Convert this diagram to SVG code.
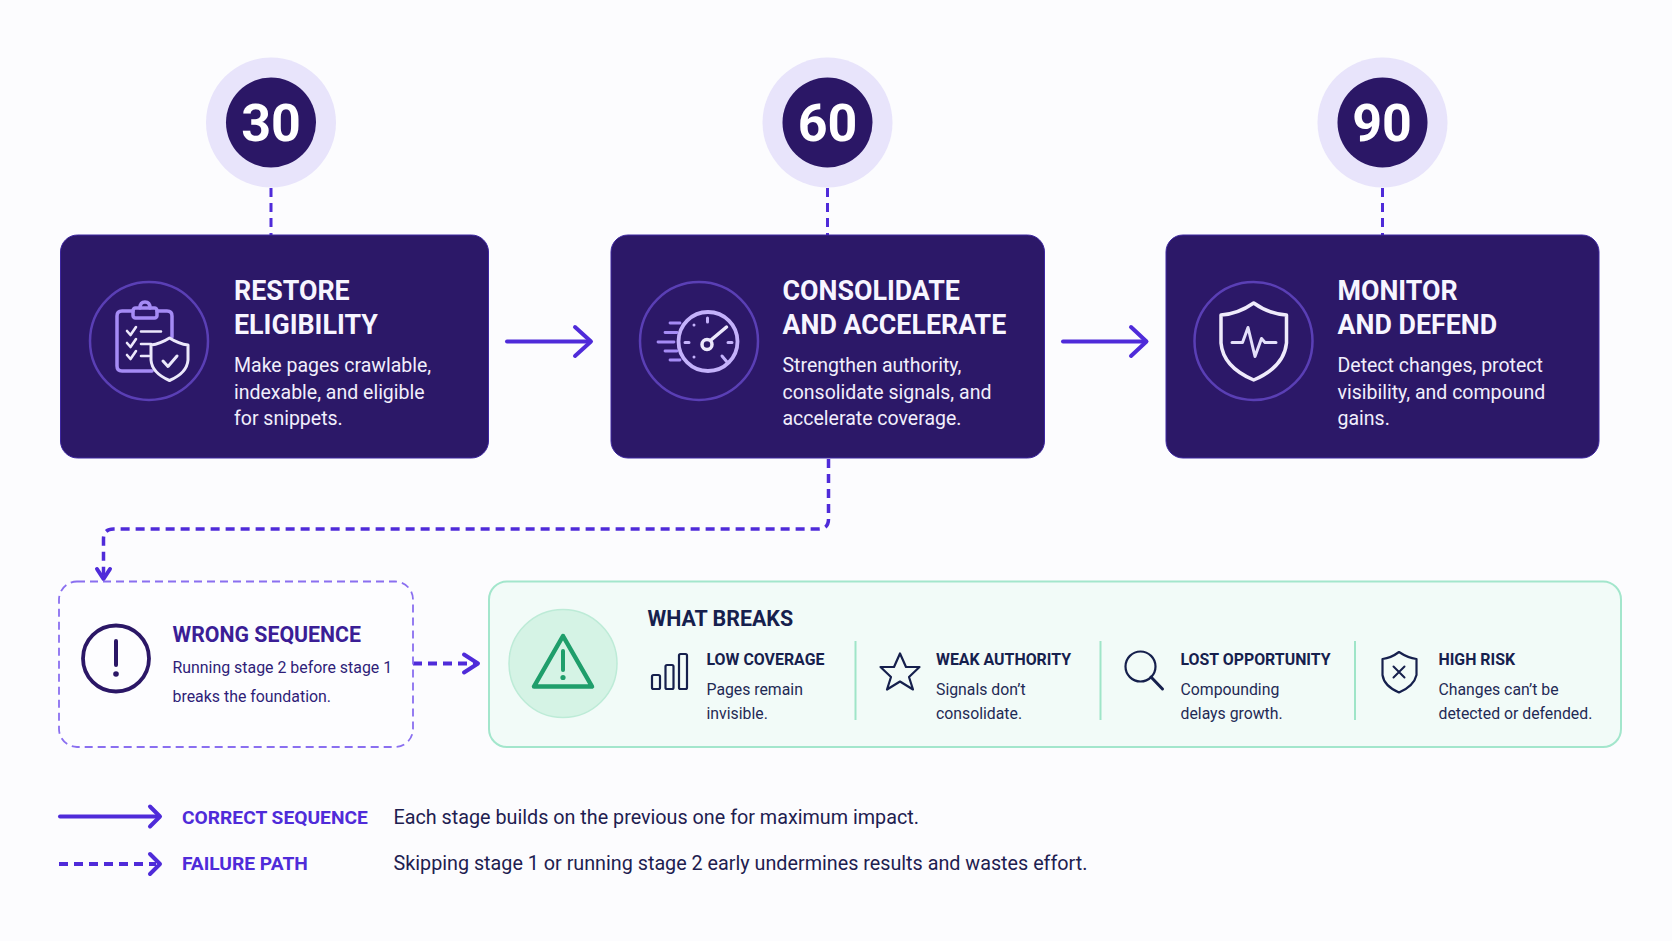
<svg xmlns="http://www.w3.org/2000/svg" width="1672" height="941" viewBox="0 0 1672 941">
<defs>
<style>
text{font-family:Roboto,"Liberation Sans",sans-serif}
.halo{fill:#e8e4fb}.disc{fill:#2b1766}
.num{fill:#fff;font-size:52px;font-weight:700;text-anchor:middle}
.card{fill:#2c1868;stroke:#3d26a0;stroke-width:1}
.ring{fill:none;stroke:#5a3fb5;stroke-width:2.500}
.t{fill:#f7f5ff;font-size:26.800px;font-weight:700}
.b{fill:#f1eefc;font-size:19.500px}
.ic{fill:none;stroke-linecap:round;stroke-linejoin:round}
.stem{stroke:#4f2bd9;stroke-width:3;stroke-dasharray:9 6;fill:none}
.flow{stroke:#4f2bd9;stroke-width:4;fill:none;stroke-linecap:round;stroke-linejoin:round}
.dash{stroke-dasharray:9 6;stroke-linecap:butt}
.thin{stroke-width:3.500}
.head{stroke:#4f2bd9;stroke-width:4;fill:none;stroke-linecap:round;stroke-linejoin:round}
.wt{fill:#16204d;font-size:15.900px;font-weight:700}
.wb{fill:#1f2a55;font-size:15.800px}
.div{stroke:#9fe5c8;stroke-width:2}
.dk{fill:none;stroke:#16204d;stroke-width:2.200;stroke-linecap:round;stroke-linejoin:round}
.lg{fill:#4f2bd9;font-size:19.200px;font-weight:700}
.ld{fill:#1e2050;font-size:19.750px}
</style>
</defs>
<rect width="1672" height="941" fill="#fcfcfe"/>
<g id="connectors">
<path class="stem" d="M271 188V235M827.500 188V235M1382.500 188V235"/>
<path class="flow" d="M507 341.500H590"/><path class="head" d="M575 327L591 341.500L575 356"/>
<path class="flow" d="M1063 341.500H1146"/><path class="head" d="M1131 327L1146.500 341.500L1131 356"/>
<path class="flow dash thin" d="M828.500 459V519Q828.500 529 818.500 529H113.500Q103.500 529 103.500 539V578"/>
<path class="head thin" d="M97 569L103.500 579L110 569"/>
<path class="flow dash" d="M413 663.500H476"/><path class="head" d="M464 654.500L478 663.500L464 672.500"/>
</g>
<g id="badge-30"><circle class="halo" cx="271" cy="122.500" r="65"/><circle class="disc" cx="271" cy="122.500" r="45"/><text class="num" x="271" y="140.500">30</text></g>
<g id="badge-60"><circle class="halo" cx="827.500" cy="122.500" r="65"/><circle class="disc" cx="827.500" cy="122.500" r="45"/><text class="num" x="827.500" y="140.500">60</text></g>
<g id="badge-90"><circle class="halo" cx="1382.500" cy="122.500" r="65"/><circle class="disc" cx="1382.500" cy="122.500" r="45"/><text class="num" x="1382" y="140.500">90</text></g>
<g id="card-restore">
<rect class="card" x="60.500" y="235" width="428" height="223" rx="17"/>
<circle class="ring" cx="149" cy="341" r="59"/>
<g class="ic" stroke="#a58bf5" stroke-width="3.500"><path d="M133 311H122Q117 311 117 316V366Q117 371 122 371H152M157 311H167Q172 311 172 316V337"/><rect x="133" y="308" width="24" height="10" rx="2.500"/><path d="M140 308Q140 302 145 302Q150 302 150 308"/></g>
<g class="ic" stroke="#ece8fb" stroke-width="2.600"><path d="M127 331L130.500 335L136 327M127 343L130.500 347L136 339M127 355L130.500 359L136 351M141 331.500H161M141 344H151M141 356H149"/></g>
<path class="ic" stroke="#ece8fb" stroke-width="3" style="fill:#2c1868" d="M169.500 338Q160 344 151 345V360Q152 373 169.500 380.500Q187 373 188 360V345Q179 344 169.500 338Z"/>
<path class="ic" stroke="#ece8fb" stroke-width="3" d="M163 361L168 366.500L177 356"/>
<text class="t" x="234" y="300">RESTORE</text><text class="t" x="234" y="334">ELIGIBILITY</text>
<text class="b" x="234" y="371.500">Make pages crawlable,</text><text class="b" x="234" y="398.500">indexable, and eligible</text><text class="b" x="234" y="425">for snippets.</text>
</g>
<g id="card-consolidate">
<rect class="card" x="611" y="235" width="433.500" height="223" rx="17"/>
<circle class="ring" cx="699" cy="341" r="59"/>
<circle class="ic" stroke="#c4b2fb" stroke-width="3.800" cx="708" cy="341.500" r="29.500"/>
<g class="ic" stroke="#a58bf5" stroke-width="2.800"><path d="M670 323H680M665 332.500H677M658 342H674M665 351H677M670 360H680"/></g>
<g class="ic" stroke="#c4b2fb" stroke-width="3"><path d="M707.500 318V322M685 342.500H689M728 342.500H732M694 325V325.100M694 357V357.100M722 356L727 362"/></g>
<path class="ic" stroke="#ece8fb" stroke-width="3.500" d="M711 340L726.500 327"/><circle class="ic" stroke="#ece8fb" stroke-width="3.500" cx="707" cy="344.500" r="5"/>
<text class="t" x="782.500" y="300">CONSOLIDATE</text><text class="t" x="782.500" y="334">AND ACCELERATE</text>
<text class="b" x="782.500" y="371.500">Strengthen authority,</text><text class="b" x="782.500" y="398.500">consolidate signals, and</text><text class="b" x="782.500" y="425">accelerate coverage.</text>
</g>
<g id="card-monitor">
<rect class="card" x="1166" y="235" width="433" height="223" rx="17"/>
<circle class="ring" cx="1253.500" cy="341" r="59"/>
<path class="ic" stroke="#efebfb" stroke-width="3.500" d="M1253.700 303Q1238 314 1221 315V343Q1223 367 1253.700 380Q1284 367 1286.500 343V315Q1269 314 1253.700 303Z"/>
<path class="ic" stroke="#e4dffa" stroke-width="3" d="M1232 342.500H1242.500L1248 327.500L1255 356.500L1261.500 338.500L1265 342.500H1276"/>
<text class="t" x="1337.500" y="300">MONITOR</text><text class="t" x="1337.500" y="334">AND DEFEND</text>
<text class="b" x="1337.500" y="371.500">Detect changes, protect</text><text class="b" x="1337.500" y="398.500">visibility, and compound</text><text class="b" x="1337.500" y="425">gains.</text>
</g>
<g id="wrong-sequence">
<rect x="59" y="581.500" width="354" height="165.500" rx="18" fill="#fdfdff" stroke="#8a6ff0" stroke-width="1.800" stroke-dasharray="8 5"/>
<circle cx="116" cy="658.500" r="33" fill="none" stroke="#2b1766" stroke-width="3.800"/>
<path d="M116 641V665" stroke="#2b1766" stroke-width="4" stroke-linecap="round"/><circle cx="116" cy="674" r="2.800" fill="#2b1766"/>
<text x="172.500" y="642" fill="#3b1e96" font-size="21.300" font-weight="700">WRONG SEQUENCE</text>
<text x="172.500" y="673" fill="#2f1e78" font-size="15.900">Running stage 2 before stage 1</text>
<text x="172.500" y="702" fill="#2f1e78" font-size="15.900">breaks the foundation.</text>
</g>
<g id="what-breaks">
<rect x="489" y="581.500" width="1132" height="165.500" rx="18" fill="#f2fbf8" stroke="#a3e6cc" stroke-width="2"/>
<circle cx="563" cy="663.500" r="54" fill="#d5f3e5" stroke="#bdebd7" stroke-width="1.500"/>
<path d="M563 636L592 686.500H534Z" fill="none" stroke="#1f9e6b" stroke-width="4.500" stroke-linejoin="round"/>
<path d="M563 651V670" stroke="#1f9e6b" stroke-width="4" stroke-linecap="round"/><circle cx="563" cy="677.500" r="2.600" fill="#1f9e6b"/>
<text x="647.500" y="625.500" fill="#16204d" font-size="21.400" font-weight="700">WHAT BREAKS</text>
<path class="div" d="M855.500 641V720M1100.500 641V720M1355 641V720"/>
</g>
<g id="low-coverage">
<rect class="dk" x="652" y="675" width="8" height="14" rx="1.500"/><rect class="dk" x="665.500" y="665" width="8" height="24" rx="1.500"/><rect class="dk" x="679" y="654" width="8" height="35" rx="1.500"/>
<text class="wt" x="706.500" y="665">LOW COVERAGE</text><text class="wb" x="706.500" y="694.500">Pages remain</text><text class="wb" x="706.500" y="719">invisible.</text>
</g>
<g id="weak-authority">
<path class="dk" d="M900 653.500L906 667H919.500L909 677L913 689.500L900 681.500L887 689.500L891 677L880.500 667H894Z"/>
<text class="wt" x="936" y="665">WEAK AUTHORITY</text><text class="wb" x="936" y="694.500">Signals don’t</text><text class="wb" x="936" y="719">consolidate.</text>
</g>
<g id="lost-opportunity">
<circle class="dk" cx="1140.500" cy="666.500" r="15"/><path class="dk" style="stroke-width:3" d="M1151 677L1162.500 689"/>
<text class="wt" x="1180.500" y="665">LOST OPPORTUNITY</text><text class="wb" x="1180.500" y="694.500">Compounding</text><text class="wb" x="1180.500" y="719">delays growth.</text>
</g>
<g id="high-risk">
<path class="dk" d="M1399 652Q1391 658 1382.500 659V675Q1384 686 1399 692.500Q1414 686 1416.500 675V659Q1408 658 1399 652Z"/><path class="dk" style="stroke-width:2" d="M1393.500 666.500L1404.500 677.500M1404.500 666.500L1393.500 677.500"/>
<text class="wt" x="1438.500" y="665">HIGH RISK</text><text class="wb" x="1438.500" y="694.500">Changes can’t be</text><text class="wb" x="1438.500" y="719">detected or defended.</text>
</g>
<g id="legend">
<path class="flow" d="M60 816.500H158"/><path class="head" d="M150 806.500L160 816.500L150 826.500"/>
<path class="flow dash" d="M59 864H156"/><path class="head" d="M150 854L160 864L150 874"/>
<text class="lg" x="182" y="823.500">CORRECT SEQUENCE</text><text class="ld" x="393.500" y="823.500">Each stage builds on the previous one for maximum impact.</text>
<text class="lg" x="182" y="870">FAILURE PATH</text><text class="ld" x="393.500" y="870">Skipping stage 1 or running stage 2 early undermines results and wastes effort.</text>
</g>
</svg>
